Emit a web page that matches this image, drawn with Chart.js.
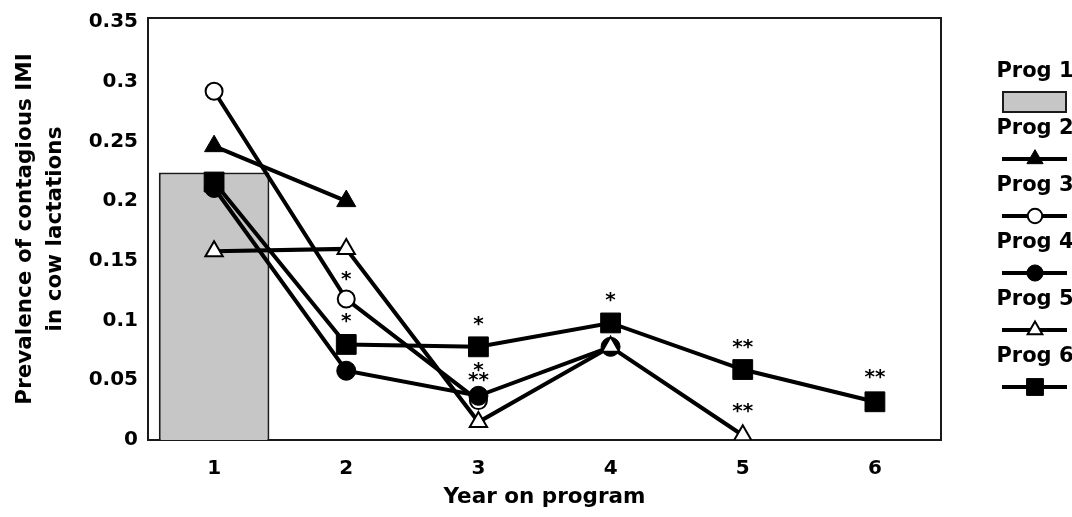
<!DOCTYPE html>
<html>
<head>
<meta charset="utf-8">
<script src="https://cdn.jsdelivr.net/npm/chart.js@4/dist/chart.umd.min.js"></script>
<style>
html,body{margin:0;padding:0;background:#fff}
canvas{display:block}
</style>
</head>
<body>
<canvas id="chart" width="1072" height="517"></canvas>
<script>
let years=["1","2","3","4","5","6"]
let yTicks=["0","0.05","0.1","0.15","0.2","0.25","0.3","0.35"]
let progNames=["Prog 1","Prog 2","Prog 3","Prog 4","Prog 5","Prog 6"]

let prog1=[0.224,null,null,null,null,null]
let prog2=[0.246,0.200,null,null,null,null]
let prog3=[0.292,0.118,0.033,null,null,null]
let prog4=[0.211,0.058,0.037,0.078,null,null]
let prog5=[0.158,0.160,0.015,0.078,0.004,null]
let prog6=[0.216,0.080,0.078,0.098,0.059,0.032]

// significance marks (year, height on the y scale, text)
let markYears=["2","2","3","3","3","4","5","5","6"]
let markValues=[0.137,0.1025,0.100,0.061,0.053,0.120,0.080,0.027,0.055]
let markTexts=["*","*","*","*","**","*","**","**","**"]

let font="DejaVu Sans"
Chart.defaults.font.family=font
Chart.defaults.color="#000"

function progLine(name,values,style,size,fill,bw,ord){
return {
type:"line",
label:name,
data:values,
borderColor:"#000",
borderWidth:4,
pointStyle:style,
pointRadius:size,
pointHoverRadius:size,
pointBackgroundColor:fill,
pointBorderColor:"#000",
pointBorderWidth:bw,
tension:0,
order:ord
}
}

let extras={
id:"extras",
beforeDatasetsDraw(c){
let a=c.chartArea
let ctx=c.ctx
ctx.save()
ctx.strokeStyle="#1a1a1a"
ctx.lineWidth=2
ctx.strokeRect(a.left,a.top,a.right-a.left,a.bottom-a.top)
ctx.restore()
},
afterDatasetsDraw(c){
let ctx=c.ctx
let xs=c.scales.x
let ys=c.scales.y
ctx.save()
ctx.font="bold 20px '"+font+"'"
ctx.fillStyle="#000"
ctx.textAlign="center"
ctx.textBaseline="alphabetic"
for(let i=0;i<markTexts.length;i++){
let m=ctx.measureText(markTexts[i])
let px=xs.getPixelForValue(years.indexOf(markYears[i]))
let py=ys.getPixelForValue(markValues[i])
ctx.fillText(markTexts[i],px,py+(m.actualBoundingBoxAscent-m.actualBoundingBoxDescent)/2)
}
ctx.restore()
},
afterDraw(c){
// legend on the right: name above, symbol below
let ctx=c.ctx
let cx=1035
ctx.save()
c.data.datasets.forEach(function(ds,i){
let ty=72+i*57
let sy=102+i*57
ctx.font="bold 21px '"+font+"'"
ctx.fillStyle="#000"
ctx.textAlign="center"
ctx.textBaseline="middle"
ctx.fillText(ds.label,cx,ty)
if(ds.type==="bar"){
ctx.fillStyle=ds.backgroundColor
ctx.fillRect(1003,sy-10,63,20)
ctx.strokeStyle=ds.borderColor
ctx.lineWidth=2
ctx.strokeRect(1003,sy-10,63,20)
}
else{
ctx.strokeStyle="#000"
ctx.lineWidth=4
ctx.beginPath()
ctx.moveTo(1002,sy)
ctx.lineTo(1067,sy)
ctx.stroke()
ctx.fillStyle=ds.pointBackgroundColor
ctx.strokeStyle="#000"
ctx.lineWidth=ds.pointBorderWidth
Chart.helpers.drawPoint(ctx,{pointStyle:ds.pointStyle,radius:ds.pointRadius*0.85,rotation:0,borderWidth:ds.pointBorderWidth},cx,sy)
}
})
ctx.restore()
}
}

new Chart(document.getElementById("chart"),{
type:"bar",
data:{
labels:years,
datasets:[
{type:"bar",label:progNames[0],data:prog1,backgroundColor:"#c6c6c6",borderColor:"#1a1a1a",borderWidth:2,barPercentage:0.837,categoryPercentage:1,order:10},
progLine(progNames[1],prog2,"triangle",11,"#000",1,4),
progLine(progNames[2],prog3,"circle",8.5,"#fff",2,3),
progLine(progNames[3],prog4,"circle",9.5,"#000",1,2),
progLine(progNames[4],prog5,"triangle",10,"#fff",2,1),
progLine(progNames[5],prog6,"rect",14,"#000",1,0)
]
},
options:{
responsive:false,
animation:false,
devicePixelRatio:1,
layout:{autoPadding:false,padding:{left:0,right:131,top:18,bottom:0}},
plugins:{legend:{display:false},tooltip:{enabled:false}},
scales:{
x:{
grid:{display:false,drawTicks:false},
border:{display:false},
ticks:{padding:17,color:"#000",font:{size:20,weight:"bold"}},
title:{display:true,text:"Year on program",color:"#000",font:{size:21.5,weight:"bold"},padding:{top:0,bottom:7}},
afterFit(s){s.height=77;s.paddingLeft=0;s.paddingRight=0}
},
y:{
min:0,
max:0.3533,
grid:{display:false,drawTicks:false},
border:{display:false},
ticks:{stepSize:0.05,includeBounds:false,padding:10,color:"#000",font:{size:20,weight:"bold"},callback:function(v,i){return yTicks[i]}},
title:{display:true,text:["Prevalence of contagious IMI","in cow lactations"],color:"#000",font:{size:21.5,weight:"bold",lineHeight:1.4},padding:{top:10.5,bottom:0}},
afterFit(s){s.width=148;s.paddingTop=0;s.paddingBottom=0}
}
}
},
plugins:[extras]
})
</script>
</body>
</html>
